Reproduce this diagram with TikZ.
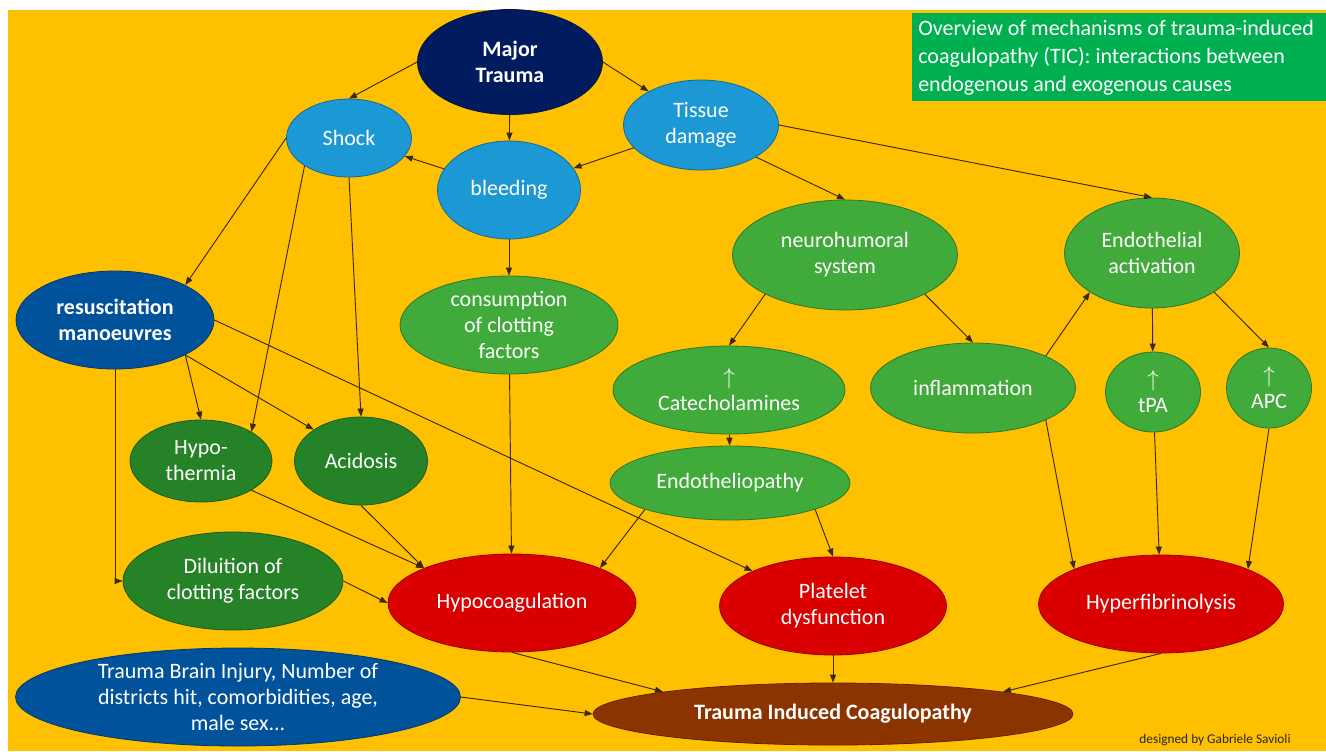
\documentclass[tikz,border=0pt]{standalone}
\usepackage{fontspec}
\setmainfont{Carlito}
\usetikzlibrary{shapes.geometric,arrows.meta}
\definecolor{bgorange}{RGB}{255,192,0}
\definecolor{navy}{RGB}{0,28,94}
\definecolor{lightblue}{RGB}{28,152,212}
\definecolor{deepblue}{RGB}{0,82,155}
\definecolor{leafgreen}{RGB}{64,170,58}
\definecolor{darkgreen}{RGB}{38,130,38}
\definecolor{alarmred}{RGB}{218,0,0}
\definecolor{rustbrown}{RGB}{140,52,0}
\definecolor{titlegreen}{RGB}{0,176,80}
\definecolor{linkcol}{RGB}{60,40,10}
\begin{document}
\begin{tikzpicture}[x=0.75pt,y=-0.75pt,
	oval/.style={ellipse,draw=#1!70!black,fill=#1,text=white,inner sep=0pt,align=center,line width=0.6pt,font=\fontsize{16.5}{19.5}\selectfont},
	wh/.style 2 args={minimum width=#1*0.75pt,minimum height=#2*0.75pt},
	link/.style={-{Triangle[length=6pt,width=4.5pt]},draw=linkcol,line width=0.7pt}]
			\useasboundingbox (0,0) rectangle (1326,751);
			\fill [white] (0,0) rectangle (1326,751);
			\fill [bgorange] (8,10) rectangle (1326,751);
			\node (title) [anchor=north west,fill=titlegreen,text=white,inner xsep=4.5pt,inner ysep=0pt,text width=301.5pt,minimum height=66pt,align=left,font=\fontsize{16.5}{21}\selectfont] at (912,13) {\spaceskip=0pt\xspaceskip=0pt\relax Overview of mechanisms of trauma-induced\\coagulopathy (TIC): interactions between\\endogenous and exogenous causes};
			\node (mt) [oval=navy,wh={185}{105},font=\fontsize{16.5}{19.5}\selectfont\bfseries] at (510,62) {Major\\Trauma};
			\node (shock) [oval=lightblue,wh={125}{78}] at (349,138) {Shock};
			\node (td) [oval=lightblue,wh={155}{90}] at (701,125) {Tissue\\damage};
			\node (bl) [oval=lightblue,wh={143}{98}] at (509,190) {bleeding};
			\node (nh) [oval=leafgreen,wh={225}{110}] at (845,255) {neurohumoral\\system};
			\node (ea) [oval=leafgreen,wh={175}{110}] at (1152,253) {Endothelial\\activation};
			\node (rm) [oval=deepblue,wh={198}{98},font=\fontsize{16.5}{19.5}\selectfont\bfseries] at (115,320) {resuscitation\\manoeuvres};
			\node (cf) [oval=leafgreen,wh={218}{98}] at (509,325) {consumption\\of clotting\\factors};
			\node (cat) [oval=leafgreen,wh={232}{88}] at (729,390) {$\uparrow$\\Catecholamines};
			\node (inf) [oval=leafgreen,wh={205}{90}] at (973,388) {inflammation};
			\node (tpa) [oval=leafgreen,wh={95}{80}] at (1153,392) {$\uparrow$\\tPA};
			\node (apc) [oval=leafgreen,wh={85}{80}] at (1269,388) {$\uparrow$\\APC};
			\node (hypo) [oval=darkgreen,wh={142}{82}] at (201,461) {Hypo-\\thermia};
			\node (ac) [oval=darkgreen,wh={133}{88}] at (361,461) {Acidosis};
			\node (en) [oval=leafgreen,wh={240}{74}] at (730,483) {Endotheliopathy};
			\node (dil) [oval=darkgreen,wh={220}{98}] at (233,581) {Diluition of\\clotting factors};
			\node (hc) [oval=alarmred,wh={248}{98}] at (512,603) {Hypocoagulation};
			\node (pd) [oval=alarmred,wh={227}{98}] at (833,606) {Platelet\\dysfunction};
			\node (hf) [oval=alarmred,wh={245}{98}] at (1161,604) {Hyperfibrinolysis};
			\node (tbi) [oval=deepblue,wh={445}{98}] at (238,697) {Trauma Brain Injury, Number of\\districts hit, comorbidities, age,\\male sex...};
			\node (tic) [oval=rustbrown,wh={480}{62},font=\fontsize{16.5}{19.5}\selectfont\bfseries] at (833,714) {Trauma Induced Coagulopathy};
			\node (credit) [text=black!85,font=\fontsize{10}{12}\selectfont] at (1215,740) {designed by Gabriele Savioli};
			\draw [link] (mt.west) -- (shock.north);
			\draw [link] (mt.east) -- (td);
			\draw [link] (mt) -- (bl);
			\draw [link] (td) -- (bl);
			\draw [link] (bl) -- (shock);
			\draw [link] (td.south east) -- (nh.north);
			\draw [link] (td.east) -- (ea.north);
			\draw [link] (shock.west) -- (rm.north east);
			\draw [link] (shock.south west) -- (hypo.north east);
			\draw [link] (shock.south) -- (ac.north);
			\draw [link] (bl) -- (cf);
			\draw [link] (rm.south east) -- (hypo.north);
			\draw [link] (rm.south east) -- (ac.north west);
			\draw [link] (rm.east) -- (pd.north west);
			\draw [link] (rm.south) |- (dil.west);
			\draw [link] (cf) -- (hc);
			\draw [link] (hypo.south east) -- (hc.north west);
			\draw [link] (ac.south) -- (hc.north west);
			\draw [link] (dil.east) -- (hc.west);
			\draw [link] (en.south west) -- (hc.north east);
			\draw [link] (en.south east) -- (pd.north);
			\draw [link] (nh.south west) -- (cat.north);
			\draw [link] (nh.south east) -- (inf.north);
			\draw [link] (cat) -- (en);
			\draw [link] (inf.north east) -- (ea.south west);
			\draw [link] (ea) -- (tpa);
			\draw [link] (ea.south east) -- (apc.north);
			\draw [link] (inf.south east) -- (hf.north west);
			\draw [link] (tpa) -- (hf);
			\draw [link] (apc.south) -- (hf.north east);
			\draw [link] (hc.south) -- (tic.north west);
			\draw [link] (pd) -- (tic);
			\draw [link] (hf.south) -- (tic.north east);
			\draw [link] (tbi.east) -- (tic.west);
		\end{tikzpicture}
\end{document}
